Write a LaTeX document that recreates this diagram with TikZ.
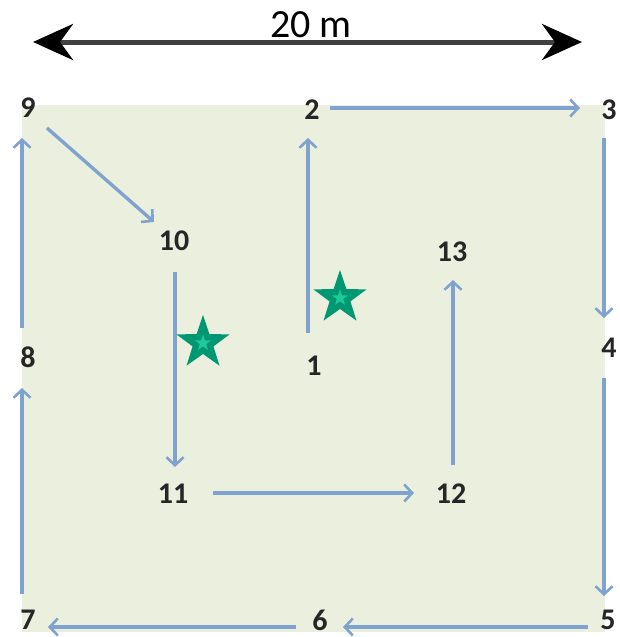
\documentclass[tikz,border=0pt]{standalone}
\usepackage{fontspec}
\setmainfont{Carlito}
\usetikzlibrary{arrows.meta,shapes.geometric}
\definecolor{fieldgreen}{HTML}{EBF0DE}
\definecolor{pathblue}{HTML}{7FA3CE}
\definecolor{stargreen}{HTML}{009872}
\definecolor{starlight}{HTML}{1FC99A}
\tikzset{
  x=1pt, y=-1pt,
  lbl/.style={font=\fontsize{30}{30}\selectfont\bfseries, text=black!85, inner sep=0pt},
  walk/.style={draw=pathblue, line width=3.4pt, -{Straight Barb[length=8pt,width=17pt,line width=2.6pt]}},
  marker/.style={star, star points=5, star point ratio=2.55, fill=stargreen, minimum size=56pt, inner sep=0pt},
  markerin/.style={star, star points=5, star point ratio=2.55, fill=starlight, minimum size=17pt, inner sep=0pt},
  scaletip/.tip={Stealth[length=40pt,width=36pt,inset=13pt,black]},
}
\begin{document}
\begin{tikzpicture}
\useasboundingbox (0,0) rectangle (619,637);
% plot area
\fill[fieldgreen] (22,105) rectangle (605,632);
% scale bar
\coordinate (sl) at (33,42);
\coordinate (sr) at (582,42);
\draw[black!75, line width=5pt, {scaletip}-{scaletip}] (sl) -- (sr);
\node[font=\fontsize{40}{40}\selectfont, inner sep=0pt] (scale) at (311,25) {20 m};
% station labels
\node[lbl] (n9)  at (28,108) {9};
\node[lbl] (n2)  at (312,110) {2};
\node[lbl] (n3)  at (609,110) {3};
\node[lbl] (n10) at (174,241) {10};
\node[lbl] (n13) at (452,252) {13};
\node[lbl] (n1)  at (314,366) {1};
\node[lbl] (n4)  at (609,348) {4};
\node[lbl] (n8)  at (28,357) {8};
\node[lbl] (n11) at (173,494) {11};
\node[lbl] (n12) at (451,494) {12};
\node[lbl] (n7)  at (28,620) {7};
\node[lbl] (n6)  at (320,620) {6};
\node[lbl] (n5)  at (608,620) {5};
% walking route, leg ends
\coordinate (a1) at (308,333);  \coordinate (b1) at (308,138);
\coordinate (a2) at (330,108);  \coordinate (b2) at (580,108);
\coordinate (a3) at (604,138);  \coordinate (b3) at (604,318);
\coordinate (a4) at (604,378);  \coordinate (b4) at (604,596);
\coordinate (a5) at (588,627);  \coordinate (b5) at (343,627);
\coordinate (a6) at (296,627);  \coordinate (b6) at (48,627);
\coordinate (a7) at (22,594);   \coordinate (b7) at (22,388);
\coordinate (a8) at (22,328);   \coordinate (b8) at (22,138);
\coordinate (a9) at (47,128);   \coordinate (b9) at (154,222);
\coordinate (a10) at (175,272); \coordinate (b10) at (175,467);
\coordinate (a11) at (213,493); \coordinate (b11) at (414,493);
\coordinate (a12) at (453,465); \coordinate (b12) at (453,280);
\foreach \i in {1,...,12} {\draw[walk] (a\i) -- (b\i);}
% markers
\node[marker] (s1) at (203,343) {};
\node[markerin] (s1c) at (s1.center) {};
\node[marker] (s2) at (340,298) {};
\node[markerin] (s2c) at (s2.center) {};
\end{tikzpicture}
\end{document}
